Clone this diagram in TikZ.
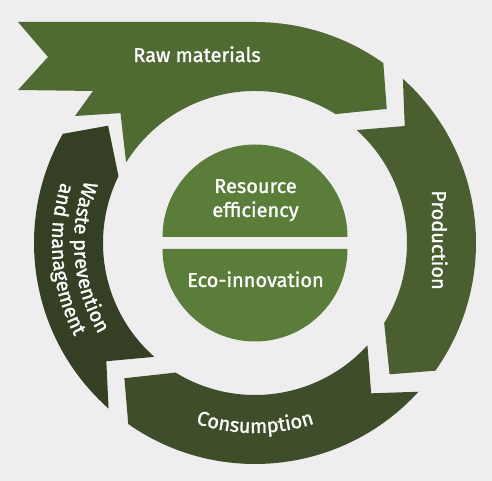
\documentclass[tikz,border=0pt]{standalone}
\usepackage{fontspec}
\setmainfont{Fira Sans}
\newfontfamily\lblfam{Fira Sans}[FakeBold=1.3]
\usetikzlibrary{decorations.text}
\definecolor{bgc}{HTML}{EEEEEE}
\definecolor{rawc}{HTML}{4F6B32}
\definecolor{prodc}{HTML}{4A5E30}
\definecolor{consc}{HTML}{3F4E2A}
\definecolor{wastec}{HTML}{343F24}
\definecolor{corec}{HTML}{5A7E3A}
\newcommand{\lblfont}{\lblfam\fontsize{20}{23}\selectfont}
\begin{document}
\begin{tikzpicture}[x=1pt,y=1pt,
  lbl/.style={text=white, font=\lblfont, inner sep=0pt},
  curvetext/.style={decorate, decoration={text along path, text color=white, text align=center, text={|\lblfont|#1}}}]
\fill[bgc] (0,0) rectangle (492,481);
\useasboundingbox (0,0) rectangle (492,481);
\begin{scope}[shift={(255,238)}]
% Raw materials
\fill[rawc] (-237,221) -- (-207,186) -- (-237,153) -- (-162,152) -- (-180,127) -- (136:187) -- (148:152)
  arc[start angle=148, end angle=58, radius=152] -- (45.5:188) -- (54.5:221)
  arc[start angle=54.5, end angle=90, radius=221] -- cycle;
% Production
\fill[prodc] (48:221) -- (38:190) -- (48:152)
  arc[start angle=48, end angle=-31.8, radius=152] -- (-44.3:188) -- (-35.3:221)
  arc[start angle=-35.3, end angle=48, radius=221] -- cycle;
% Consumption
\fill[consc] (-42.3:221) -- (-52.3:190) -- (-42.3:152)
  arc[start angle=-42.3, end angle=-121.5, radius=152] -- (-134:188) -- (-125:221)
  arc[start angle=-125, end angle=-42.3, radius=221] -- cycle;
% Waste
\fill[wastec] (-131.5:221) -- (-141.5:190) -- (-131.5:152)
  arc[start angle=-131.5, end angle=-206.1, radius=152] -- (-218.6:188) -- (-209.6:221)
  arc[start angle=-209.6, end angle=-131.5, radius=221] -- cycle;
% core
\fill[corec] (-92.5,6) arc[start angle=180, end angle=0, radius=92.5] -- cycle;
\fill[corec] (-92.5,-6) arc[start angle=180, end angle=360, radius=92.5] -- cycle;
% labels
\node[lbl, anchor=base] (raw) at (-58,181) {Raw materials};
\node[lbl, anchor=base] (res1) at (0.5,50) {Resource};
\node[lbl, anchor=base] (res2) at (0.5,26) {efficiency};
\node[lbl, anchor=base] (eco) at (0.5,-44) {Eco-innovation};
\node[lbl, anchor=base, rotate=-90] (prod) at (177,3) {Production};
\path[curvetext={Consumption}] (-125:190) arc[start angle=-125, end angle=-55, radius=190];
\path[curvetext={Waste prevention}] (140:181) arc[start angle=140, end angle=230, radius=181];
\path[curvetext={and management}] (140:203) arc[start angle=140, end angle=230, radius=203];
\end{scope}
\end{tikzpicture}
\end{document}
